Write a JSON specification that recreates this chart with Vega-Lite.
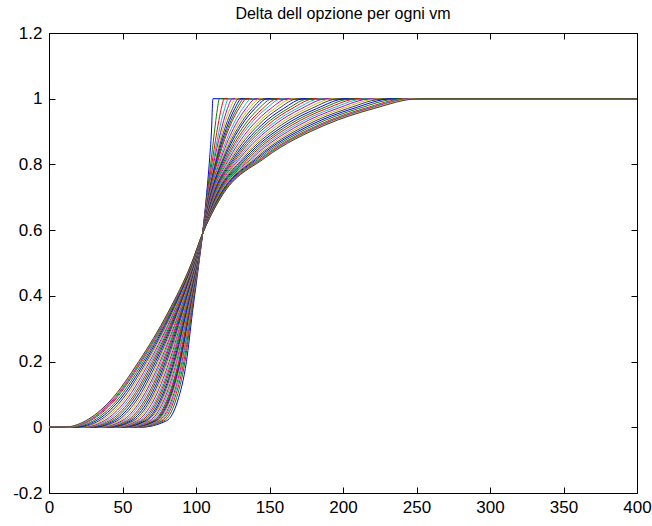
{
"$schema": "https://vega.github.io/schema/vega-lite/v6.json",
"width": 588, "height": 460,
"autosize": "none",
"padding": {"left": 49, "top": 33, "right": 15, "bottom": 33},
"background": "white",
"config": {
  "view": {"stroke": "black", "strokeWidth": 1},
  "axis": {"labelFont": "Liberation Sans", "labelFontSize": 17, "labelColor": "black", "tickColor": "black", "tickSize": -6, "domain": false, "grid": false, "title": null, "labelFlush": false, "labelOverlap": false}
},
"title": {"text": "Delta dell opzione per ogni vm", "font": "Liberation Sans", "fontSize": 16, "fontWeight": "normal", "color": "black", "frame": "group", "anchor": "middle", "offset": 2},
"data": {"values": [
{"c":1,"x":0,"y":0},{"c":1,"x":62,"y":0},{"c":1,"x":80,"y":0.02},{"c":1,"x":87.5,"y":0.08},{"c":1,"x":93.5,"y":0.2},{"c":1,"x":97.6,"y":0.35},{"c":1,"x":102,"y":0.5},{"c":1,"x":104.5,"y":0.59},{"c":1,"x":107,"y":0.7},{"c":1,"x":109.3,"y":0.82},{"c":1,"x":110.7,"y":0.92},{"c":1,"x":111.1,"y":0.97},{"c":1,"x":111.5,"y":1},{"c":1,"x":400,"y":1},
{"c":2,"x":0,"y":0},{"c":2,"x":60.4,"y":0},{"c":2,"x":78.3,"y":0.02},{"c":2,"x":86.1,"y":0.08},{"c":2,"x":92.5,"y":0.2},{"c":2,"x":97.1,"y":0.35},{"c":2,"x":101.8,"y":0.5},{"c":2,"x":104.5,"y":0.59},{"c":2,"x":107.3,"y":0.7},{"c":2,"x":110.5,"y":0.82},{"c":2,"x":113.1,"y":0.92},{"c":2,"x":114.6,"y":0.97},{"c":2,"x":115.9,"y":1},{"c":2,"x":400,"y":1},
{"c":3,"x":0,"y":0},{"c":3,"x":59.1,"y":0},{"c":3,"x":76.9,"y":0.02},{"c":3,"x":84.9,"y":0.08},{"c":3,"x":91.7,"y":0.2},{"c":3,"x":96.7,"y":0.35},{"c":3,"x":101.7,"y":0.5},{"c":3,"x":104.5,"y":0.59},{"c":3,"x":107.6,"y":0.7},{"c":3,"x":111.4,"y":0.82},{"c":3,"x":115,"y":0.92},{"c":3,"x":117.2,"y":0.97},{"c":3,"x":119.3,"y":1},{"c":3,"x":400,"y":1},
{"c":4,"x":0,"y":0},{"c":4,"x":58,"y":0},{"c":4,"x":75.8,"y":0.02},{"c":4,"x":84,"y":0.08},{"c":4,"x":91,"y":0.2},{"c":4,"x":96.3,"y":0.35},{"c":4,"x":101.6,"y":0.5},{"c":4,"x":104.5,"y":0.59},{"c":4,"x":107.8,"y":0.7},{"c":4,"x":112.2,"y":0.82},{"c":4,"x":116.6,"y":0.92},{"c":4,"x":119.5,"y":0.97},{"c":4,"x":122.2,"y":1},{"c":4,"x":400,"y":1},
{"c":5,"x":0,"y":0},{"c":5,"x":57.1,"y":0},{"c":5,"x":74.8,"y":0.02},{"c":5,"x":83.2,"y":0.08},{"c":5,"x":90.4,"y":0.2},{"c":5,"x":96,"y":0.35},{"c":5,"x":101.5,"y":0.5},{"c":5,"x":104.5,"y":0.59},{"c":5,"x":107.9,"y":0.7},{"c":5,"x":112.8,"y":0.82},{"c":5,"x":118,"y":0.92},{"c":5,"x":121.4,"y":0.97},{"c":5,"x":124.7,"y":1},{"c":5,"x":400,"y":1},
{"c":6,"x":0,"y":0},{"c":6,"x":56.3,"y":0},{"c":6,"x":73.9,"y":0.02},{"c":6,"x":82.4,"y":0.08},{"c":6,"x":89.9,"y":0.2},{"c":6,"x":95.8,"y":0.35},{"c":6,"x":101.4,"y":0.5},{"c":6,"x":104.5,"y":0.59},{"c":6,"x":108.1,"y":0.7},{"c":6,"x":113.5,"y":0.82},{"c":6,"x":119.2,"y":0.92},{"c":6,"x":123.2,"y":0.97},{"c":6,"x":127,"y":1},{"c":6,"x":400,"y":1},
{"c":7,"x":0,"y":0},{"c":7,"x":55.5,"y":0},{"c":7,"x":73.1,"y":0.02},{"c":7,"x":81.7,"y":0.08},{"c":7,"x":89.4,"y":0.2},{"c":7,"x":95.5,"y":0.35},{"c":7,"x":101.4,"y":0.5},{"c":7,"x":104.5,"y":0.59},{"c":7,"x":108.3,"y":0.7},{"c":7,"x":114,"y":0.82},{"c":7,"x":120.4,"y":0.92},{"c":7,"x":124.9,"y":0.97},{"c":7,"x":129.1,"y":1},{"c":7,"x":400,"y":1},
{"c":8,"x":0,"y":0},{"c":8,"x":54.8,"y":0},{"c":8,"x":72.3,"y":0.02},{"c":8,"x":81.1,"y":0.08},{"c":8,"x":89,"y":0.2},{"c":8,"x":95.3,"y":0.35},{"c":8,"x":101.3,"y":0.5},{"c":8,"x":104.5,"y":0.59},{"c":8,"x":108.4,"y":0.7},{"c":8,"x":114.5,"y":0.82},{"c":8,"x":121.5,"y":0.92},{"c":8,"x":126.4,"y":0.97},{"c":8,"x":131,"y":1},{"c":8,"x":400,"y":1},
{"c":9,"x":0,"y":0},{"c":9,"x":54.1,"y":0},{"c":9,"x":71.6,"y":0.02},{"c":9,"x":80.5,"y":0.08},{"c":9,"x":88.6,"y":0.2},{"c":9,"x":95.1,"y":0.35},{"c":9,"x":101.2,"y":0.5},{"c":9,"x":104.5,"y":0.59},{"c":9,"x":108.5,"y":0.7},{"c":9,"x":115,"y":0.82},{"c":9,"x":122.5,"y":0.92},{"c":9,"x":127.8,"y":0.97},{"c":9,"x":132.9,"y":1},{"c":9,"x":400,"y":1},
{"c":10,"x":0,"y":0},{"c":10,"x":53.4,"y":0},{"c":10,"x":71,"y":0.02},{"c":10,"x":79.9,"y":0.08},{"c":10,"x":88.2,"y":0.2},{"c":10,"x":94.9,"y":0.35},{"c":10,"x":101.2,"y":0.5},{"c":10,"x":104.5,"y":0.59},{"c":10,"x":108.6,"y":0.7},{"c":10,"x":115.5,"y":0.82},{"c":10,"x":123.4,"y":0.92},{"c":10,"x":129.2,"y":0.97},{"c":10,"x":134.6,"y":1},{"c":10,"x":400,"y":1},
{"c":11,"x":0,"y":0},{"c":11,"x":52.3,"y":0},{"c":11,"x":69.7,"y":0.02},{"c":11,"x":78.9,"y":0.08},{"c":11,"x":87.4,"y":0.2},{"c":11,"x":94.5,"y":0.35},{"c":11,"x":101.1,"y":0.5},{"c":11,"x":104.5,"y":0.59},{"c":11,"x":108.9,"y":0.7},{"c":11,"x":116.4,"y":0.82},{"c":11,"x":125.2,"y":0.92},{"c":11,"x":131.7,"y":0.97},{"c":11,"x":137.8,"y":1},{"c":11,"x":400,"y":1},
{"c":12,"x":0,"y":0},{"c":12,"x":51.2,"y":0},{"c":12,"x":68.5,"y":0.02},{"c":12,"x":77.9,"y":0.08},{"c":12,"x":86.7,"y":0.2},{"c":12,"x":94.1,"y":0.35},{"c":12,"x":101,"y":0.5},{"c":12,"x":104.5,"y":0.59},{"c":12,"x":109.1,"y":0.7},{"c":12,"x":117.2,"y":0.82},{"c":12,"x":126.8,"y":0.92},{"c":12,"x":134,"y":0.97},{"c":12,"x":140.8,"y":1},{"c":12,"x":400,"y":1},
{"c":13,"x":0,"y":0},{"c":13,"x":50.1,"y":0},{"c":13,"x":67.4,"y":0.02},{"c":13,"x":77,"y":0.08},{"c":13,"x":86.1,"y":0.2},{"c":13,"x":93.8,"y":0.35},{"c":13,"x":100.9,"y":0.5},{"c":13,"x":104.5,"y":0.59},{"c":13,"x":109.3,"y":0.7},{"c":13,"x":117.9,"y":0.82},{"c":13,"x":128.3,"y":0.92},{"c":13,"x":136.2,"y":0.97},{"c":13,"x":143.6,"y":1},{"c":13,"x":400,"y":1},
{"c":14,"x":0,"y":0},{"c":14,"x":49.2,"y":0},{"c":14,"x":66.4,"y":0.02},{"c":14,"x":76.2,"y":0.08},{"c":14,"x":85.5,"y":0.2},{"c":14,"x":93.5,"y":0.35},{"c":14,"x":100.8,"y":0.5},{"c":14,"x":104.5,"y":0.59},{"c":14,"x":109.5,"y":0.7},{"c":14,"x":118.6,"y":0.82},{"c":14,"x":129.8,"y":0.92},{"c":14,"x":138.2,"y":0.97},{"c":14,"x":146.2,"y":1},{"c":14,"x":400,"y":1},
{"c":15,"x":0,"y":0},{"c":15,"x":48.3,"y":0},{"c":15,"x":65.5,"y":0.02},{"c":15,"x":75.3,"y":0.08},{"c":15,"x":84.9,"y":0.2},{"c":15,"x":93.2,"y":0.35},{"c":15,"x":100.7,"y":0.5},{"c":15,"x":104.5,"y":0.59},{"c":15,"x":109.6,"y":0.7},{"c":15,"x":119.3,"y":0.82},{"c":15,"x":131.1,"y":0.92},{"c":15,"x":140.1,"y":0.97},{"c":15,"x":148.6,"y":1},{"c":15,"x":400,"y":1},
{"c":16,"x":0,"y":0},{"c":16,"x":47,"y":0},{"c":16,"x":64.1,"y":0.02},{"c":16,"x":74.2,"y":0.08},{"c":16,"x":84.1,"y":0.2},{"c":16,"x":92.8,"y":0.35},{"c":16,"x":100.6,"y":0.5},{"c":16,"x":104.5,"y":0.59},{"c":16,"x":109.9,"y":0.7},{"c":16,"x":120.2,"y":0.82},{"c":16,"x":133,"y":0.92},{"c":16,"x":142.8,"y":0.97},{"c":16,"x":152.1,"y":1},{"c":16,"x":400,"y":1},
{"c":17,"x":0,"y":0},{"c":17,"x":45.8,"y":0},{"c":17,"x":62.8,"y":0.02},{"c":17,"x":73.2,"y":0.08},{"c":17,"x":83.4,"y":0.2},{"c":17,"x":92.4,"y":0.35},{"c":17,"x":100.4,"y":0.5},{"c":17,"x":104.5,"y":0.59},{"c":17,"x":110.1,"y":0.7},{"c":17,"x":121.1,"y":0.82},{"c":17,"x":134.8,"y":0.92},{"c":17,"x":145.4,"y":0.97},{"c":17,"x":155.3,"y":1},{"c":17,"x":400,"y":1},
{"c":18,"x":0,"y":0},{"c":18,"x":44.6,"y":0},{"c":18,"x":61.6,"y":0.02},{"c":18,"x":72.2,"y":0.08},{"c":18,"x":82.7,"y":0.2},{"c":18,"x":92.1,"y":0.35},{"c":18,"x":100.3,"y":0.5},{"c":18,"x":104.5,"y":0.59},{"c":18,"x":110.3,"y":0.7},{"c":18,"x":121.9,"y":0.82},{"c":18,"x":136.5,"y":0.92},{"c":18,"x":147.8,"y":0.97},{"c":18,"x":158.4,"y":1},{"c":18,"x":400,"y":1},
{"c":19,"x":0,"y":0},{"c":19,"x":43.2,"y":0},{"c":19,"x":60.1,"y":0.02},{"c":19,"x":70.9,"y":0.08},{"c":19,"x":81.8,"y":0.2},{"c":19,"x":91.6,"y":0.35},{"c":19,"x":100.2,"y":0.5},{"c":19,"x":104.5,"y":0.59},{"c":19,"x":110.6,"y":0.7},{"c":19,"x":122.9,"y":0.82},{"c":19,"x":138.6,"y":0.92},{"c":19,"x":150.8,"y":0.97},{"c":19,"x":162.2,"y":1},{"c":19,"x":400,"y":1},
{"c":20,"x":0,"y":0},{"c":20,"x":41.9,"y":0},{"c":20,"x":58.7,"y":0.02},{"c":20,"x":69.7,"y":0.08},{"c":20,"x":80.9,"y":0.2},{"c":20,"x":91.2,"y":0.35},{"c":20,"x":100.1,"y":0.5},{"c":20,"x":104.5,"y":0.59},{"c":20,"x":110.9,"y":0.7},{"c":20,"x":123.9,"y":0.82},{"c":20,"x":140.6,"y":0.92},{"c":20,"x":153.6,"y":0.97},{"c":20,"x":165.8,"y":1},{"c":20,"x":400,"y":1},
{"c":21,"x":0,"y":0},{"c":21,"x":40.6,"y":0},{"c":21,"x":57.4,"y":0.02},{"c":21,"x":68.6,"y":0.08},{"c":21,"x":80.1,"y":0.2},{"c":21,"x":90.8,"y":0.35},{"c":21,"x":99.9,"y":0.5},{"c":21,"x":104.5,"y":0.59},{"c":21,"x":111.1,"y":0.7},{"c":21,"x":124.8,"y":0.82},{"c":21,"x":142.5,"y":0.92},{"c":21,"x":156.3,"y":0.97},{"c":21,"x":169.3,"y":1},{"c":21,"x":400,"y":1},
{"c":22,"x":0,"y":0},{"c":22,"x":39.1,"y":0},{"c":22,"x":55.8,"y":0.02},{"c":22,"x":67.3,"y":0.08},{"c":22,"x":79.2,"y":0.2},{"c":22,"x":90.3,"y":0.35},{"c":22,"x":99.8,"y":0.5},{"c":22,"x":104.5,"y":0.59},{"c":22,"x":111.4,"y":0.7},{"c":22,"x":125.9,"y":0.82},{"c":22,"x":144.7,"y":0.92},{"c":22,"x":159.5,"y":0.97},{"c":22,"x":173.3,"y":1},{"c":22,"x":400,"y":1},
{"c":23,"x":0,"y":0},{"c":23,"x":37.7,"y":0},{"c":23,"x":54.3,"y":0.02},{"c":23,"x":66,"y":0.08},{"c":23,"x":78.3,"y":0.2},{"c":23,"x":89.8,"y":0.35},{"c":23,"x":99.7,"y":0.5},{"c":23,"x":104.5,"y":0.59},{"c":23,"x":111.7,"y":0.7},{"c":23,"x":126.9,"y":0.82},{"c":23,"x":146.8,"y":0.92},{"c":23,"x":162.5,"y":0.97},{"c":23,"x":177.2,"y":1},{"c":23,"x":400,"y":1},
{"c":24,"x":0,"y":0},{"c":24,"x":36.3,"y":0},{"c":24,"x":52.9,"y":0.02},{"c":24,"x":64.8,"y":0.08},{"c":24,"x":77.5,"y":0.2},{"c":24,"x":89.4,"y":0.35},{"c":24,"x":99.5,"y":0.5},{"c":24,"x":104.5,"y":0.59},{"c":24,"x":111.9,"y":0.7},{"c":24,"x":127.9,"y":0.82},{"c":24,"x":148.8,"y":0.92},{"c":24,"x":165.3,"y":0.97},{"c":24,"x":180.8,"y":1},{"c":24,"x":400,"y":1},
{"c":25,"x":0,"y":0},{"c":25,"x":34.8,"y":0},{"c":25,"x":51.2,"y":0.02},{"c":25,"x":63.4,"y":0.08},{"c":25,"x":76.5,"y":0.2},{"c":25,"x":88.9,"y":0.35},{"c":25,"x":99.4,"y":0.5},{"c":25,"x":104.5,"y":0.59},{"c":25,"x":112.2,"y":0.7},{"c":25,"x":129,"y":0.82},{"c":25,"x":151.1,"y":0.92},{"c":25,"x":168.6,"y":0.97},{"c":25,"x":185,"y":1},{"c":25,"x":400,"y":1},
{"c":26,"x":0,"y":0},{"c":26,"x":33.3,"y":0},{"c":26,"x":49.7,"y":0.02},{"c":26,"x":62.1,"y":0.08},{"c":26,"x":75.6,"y":0.2},{"c":26,"x":88.4,"y":0.35},{"c":26,"x":99.2,"y":0.5},{"c":26,"x":104.5,"y":0.59},{"c":26,"x":112.5,"y":0.7},{"c":26,"x":130.1,"y":0.82},{"c":26,"x":153.3,"y":0.92},{"c":26,"x":171.7,"y":0.97},{"c":26,"x":189,"y":1},{"c":26,"x":400,"y":1},
{"c":27,"x":0,"y":0},{"c":27,"x":31.7,"y":0},{"c":27,"x":48,"y":0.02},{"c":27,"x":60.7,"y":0.08},{"c":27,"x":74.6,"y":0.2},{"c":27,"x":87.9,"y":0.35},{"c":27,"x":99.1,"y":0.5},{"c":27,"x":104.5,"y":0.59},{"c":27,"x":112.8,"y":0.7},{"c":27,"x":131.3,"y":0.82},{"c":27,"x":155.8,"y":0.92},{"c":27,"x":175.2,"y":0.97},{"c":27,"x":193.4,"y":1},{"c":27,"x":400,"y":1},
{"c":28,"x":0,"y":0},{"c":28,"x":30.1,"y":0},{"c":28,"x":46.3,"y":0.02},{"c":28,"x":59.3,"y":0.08},{"c":28,"x":73.6,"y":0.2},{"c":28,"x":87.4,"y":0.35},{"c":28,"x":98.9,"y":0.5},{"c":28,"x":104.5,"y":0.59},{"c":28,"x":113.1,"y":0.7},{"c":28,"x":132.4,"y":0.82},{"c":28,"x":158.1,"y":0.92},{"c":28,"x":178.5,"y":0.97},{"c":28,"x":197.6,"y":1},{"c":28,"x":400,"y":1},
{"c":29,"x":0,"y":0},{"c":29,"x":28.4,"y":0},{"c":29,"x":44.5,"y":0.02},{"c":29,"x":57.8,"y":0.08},{"c":29,"x":72.5,"y":0.2},{"c":29,"x":86.9,"y":0.35},{"c":29,"x":98.8,"y":0.5},{"c":29,"x":104.5,"y":0.59},{"c":29,"x":113.5,"y":0.7},{"c":29,"x":133.6,"y":0.82},{"c":29,"x":160.6,"y":0.92},{"c":29,"x":182.1,"y":0.97},{"c":29,"x":202.2,"y":1},{"c":29,"x":400,"y":1},
{"c":30,"x":0,"y":0},{"c":30,"x":26.8,"y":0},{"c":30,"x":42.8,"y":0.02},{"c":30,"x":56.3,"y":0.08},{"c":30,"x":71.5,"y":0.2},{"c":30,"x":86.4,"y":0.35},{"c":30,"x":98.6,"y":0.5},{"c":30,"x":104.5,"y":0.59},{"c":30,"x":113.8,"y":0.7},{"c":30,"x":134.8,"y":0.82},{"c":30,"x":163,"y":0.92},{"c":30,"x":185.5,"y":0.97},{"c":30,"x":206.6,"y":1},{"c":30,"x":400,"y":1},
{"c":31,"x":0,"y":0},{"c":31,"x":25.2,"y":0},{"c":31,"x":41.1,"y":0.02},{"c":31,"x":55,"y":0.08},{"c":31,"x":70.5,"y":0.2},{"c":31,"x":85.9,"y":0.35},{"c":31,"x":98.5,"y":0.5},{"c":31,"x":104.5,"y":0.59},{"c":31,"x":114.1,"y":0.7},{"c":31,"x":136,"y":0.82},{"c":31,"x":165.4,"y":0.92},{"c":31,"x":188.8,"y":0.97},{"c":31,"x":210.9,"y":1},{"c":31,"x":400,"y":1},
{"c":32,"x":0,"y":0},{"c":32,"x":23.5,"y":0},{"c":32,"x":39.3,"y":0.02},{"c":32,"x":53.5,"y":0.08},{"c":32,"x":69.5,"y":0.2},{"c":32,"x":85.3,"y":0.35},{"c":32,"x":98.3,"y":0.5},{"c":32,"x":104.5,"y":0.59},{"c":32,"x":114.4,"y":0.7},{"c":32,"x":137.2,"y":0.82},{"c":32,"x":167.9,"y":0.92},{"c":32,"x":192.4,"y":0.97},{"c":32,"x":215.5,"y":1},{"c":32,"x":400,"y":1},
{"c":33,"x":0,"y":0},{"c":33,"x":21.9,"y":0},{"c":33,"x":37.6,"y":0.02},{"c":33,"x":52,"y":0.08},{"c":33,"x":68.4,"y":0.2},{"c":33,"x":84.8,"y":0.35},{"c":33,"x":98.1,"y":0.5},{"c":33,"x":104.5,"y":0.59},{"c":33,"x":114.7,"y":0.7},{"c":33,"x":138.4,"y":0.82},{"c":33,"x":170.3,"y":0.92},{"c":33,"x":195.9,"y":0.97},{"c":33,"x":219.9,"y":1},{"c":33,"x":400,"y":1},
{"c":34,"x":0,"y":0},{"c":34,"x":20.2,"y":0},{"c":34,"x":35.7,"y":0.02},{"c":34,"x":50.5,"y":0.08},{"c":34,"x":67.3,"y":0.2},{"c":34,"x":84.2,"y":0.35},{"c":34,"x":98,"y":0.5},{"c":34,"x":104.5,"y":0.59},{"c":34,"x":115,"y":0.7},{"c":34,"x":139.6,"y":0.82},{"c":34,"x":172.9,"y":0.92},{"c":34,"x":199.5,"y":0.97},{"c":34,"x":224.6,"y":1},{"c":34,"x":400,"y":1},
{"c":35,"x":0,"y":0},{"c":35,"x":18.5,"y":0},{"c":35,"x":34,"y":0.02},{"c":35,"x":49,"y":0.08},{"c":35,"x":66.3,"y":0.2},{"c":35,"x":83.7,"y":0.35},{"c":35,"x":97.8,"y":0.5},{"c":35,"x":104.5,"y":0.59},{"c":35,"x":115.4,"y":0.7},{"c":35,"x":140.9,"y":0.82},{"c":35,"x":175.4,"y":0.92},{"c":35,"x":203.1,"y":0.97},{"c":35,"x":229.1,"y":1},{"c":35,"x":400,"y":1},
{"c":36,"x":0,"y":0},{"c":36,"x":16.7,"y":0},{"c":36,"x":32.1,"y":0.02},{"c":36,"x":47.4,"y":0.08},{"c":36,"x":65.2,"y":0.2},{"c":36,"x":83.1,"y":0.35},{"c":36,"x":97.6,"y":0.5},{"c":36,"x":104.5,"y":0.59},{"c":36,"x":115.7,"y":0.7},{"c":36,"x":142.1,"y":0.82},{"c":36,"x":178,"y":0.92},{"c":36,"x":206.8,"y":0.97},{"c":36,"x":233.9,"y":1},{"c":36,"x":400,"y":1},
{"c":37,"x":0,"y":0},{"c":37,"x":15,"y":0},{"c":37,"x":30.3,"y":0.02},{"c":37,"x":45.9,"y":0.08},{"c":37,"x":64.1,"y":0.2},{"c":37,"x":82.6,"y":0.35},{"c":37,"x":97.5,"y":0.5},{"c":37,"x":104.5,"y":0.59},{"c":37,"x":116,"y":0.7},{"c":37,"x":143.4,"y":0.82},{"c":37,"x":180.6,"y":0.92},{"c":37,"x":210.5,"y":0.97},{"c":37,"x":238.6,"y":1},{"c":37,"x":400,"y":1},
{"c":38,"x":0,"y":0},{"c":38,"x":13.2,"y":0},{"c":38,"x":28.3,"y":0.02},{"c":38,"x":44.3,"y":0.08},{"c":38,"x":63,"y":0.2},{"c":38,"x":82,"y":0.35},{"c":38,"x":97.3,"y":0.5},{"c":38,"x":104.5,"y":0.59},{"c":38,"x":116.4,"y":0.7},{"c":38,"x":144.7,"y":0.82},{"c":38,"x":183.3,"y":0.92},{"c":38,"x":214.3,"y":0.97},{"c":38,"x":243.4,"y":1},{"c":38,"x":400,"y":1},
{"c":39,"x":0,"y":0},{"c":39,"x":12.3,"y":0},{"c":39,"x":27.5,"y":0.02},{"c":39,"x":43.6,"y":0.08},{"c":39,"x":62.5,"y":0.2},{"c":39,"x":81.7,"y":0.35},{"c":39,"x":97.2,"y":0.5},{"c":39,"x":104.5,"y":0.59},{"c":39,"x":116.6,"y":0.7},{"c":39,"x":145.3,"y":0.82},{"c":39,"x":184.5,"y":0.92},{"c":39,"x":216.1,"y":0.97},{"c":39,"x":245.7,"y":1},{"c":39,"x":400,"y":1},
{"c":40,"x":0,"y":0},{"c":40,"x":11.6,"y":0},{"c":40,"x":26.7,"y":0.02},{"c":40,"x":42.9,"y":0.08},{"c":40,"x":62,"y":0.2},{"c":40,"x":81.5,"y":0.35},{"c":40,"x":97.2,"y":0.5},{"c":40,"x":104.5,"y":0.59},{"c":40,"x":116.7,"y":0.7},{"c":40,"x":145.9,"y":0.82},{"c":40,"x":185.7,"y":0.92},{"c":40,"x":217.7,"y":0.97},{"c":40,"x":247.8,"y":1},{"c":40,"x":400,"y":1},
{"c":41,"x":0,"y":0},{"c":41,"x":10.8,"y":0},{"c":41,"x":25.8,"y":0.02},{"c":41,"x":42.2,"y":0.08},{"c":41,"x":61.5,"y":0.2},{"c":41,"x":81.2,"y":0.35},{"c":41,"x":97.1,"y":0.5},{"c":41,"x":104.5,"y":0.59},{"c":41,"x":116.9,"y":0.7},{"c":41,"x":146.4,"y":0.82},{"c":41,"x":186.8,"y":0.92},{"c":41,"x":219.4,"y":0.97},{"c":41,"x":249.9,"y":1},{"c":41,"x":400,"y":1},
{"c":42,"x":0,"y":0},{"c":42,"x":10,"y":0},{"c":42,"x":25,"y":0.02},{"c":42,"x":41.5,"y":0.08},{"c":42,"x":61,"y":0.2},{"c":42,"x":81,"y":0.35},{"c":42,"x":97,"y":0.5},{"c":42,"x":104.5,"y":0.59},{"c":42,"x":117,"y":0.7},{"c":42,"x":147,"y":0.82},{"c":42,"x":188,"y":0.92},{"c":42,"x":221,"y":0.97},{"c":42,"x":252,"y":1},{"c":42,"x":400,"y":1}
]},
"layer": [
  {"mark": {"type": "line", "interpolate": "monotone", "strokeWidth": 1, "clip": true},
   "encoding": {
     "x": {"field": "x", "type": "quantitative", "scale": {"domain": [0, 400], "nice": false, "zero": false}, "axis": {"orient": "bottom", "values": [0,50,100,150,200,250,300,350,400], "labelPadding": 12, "format": "d"}},
     "y": {"field": "y", "type": "quantitative", "scale": {"domain": [-0.2, 1.2], "nice": false, "zero": false}, "axis": {"orient": "left", "values": [-0.2,0,0.2,0.4,0.6,0.8,1,1.2], "labelPadding": 13, "format": ".1f", "labelExpr": "replace(replace(datum.label, '\u2212', '-'), '.0', '')"}},
     "color": {"field": "c", "type": "ordinal", "scale": {"type": "ordinal", "range": ["#0000ff","#008000","#ff0000","#00bfbf","#bf00bf","#bfbf00","#404040"]}, "legend": null}
   }},
  {"data": {"values": [{"x": 0, "y": 0}]},
   "mark": {"type": "point", "opacity": 0},
   "encoding": {
     "x": {"field": "x", "type": "quantitative", "axis": {"orient": "top", "labels": false, "values": [0,50,100,150,200,250,300,350,400]}},
     "y": {"field": "y", "type": "quantitative", "axis": {"orient": "right", "labels": false, "values": [-0.2,0,0.2,0.4,0.6,0.8,1,1.2]}}
   }}
],
"resolve": {"axis": {"x": "independent", "y": "independent"}}
}
